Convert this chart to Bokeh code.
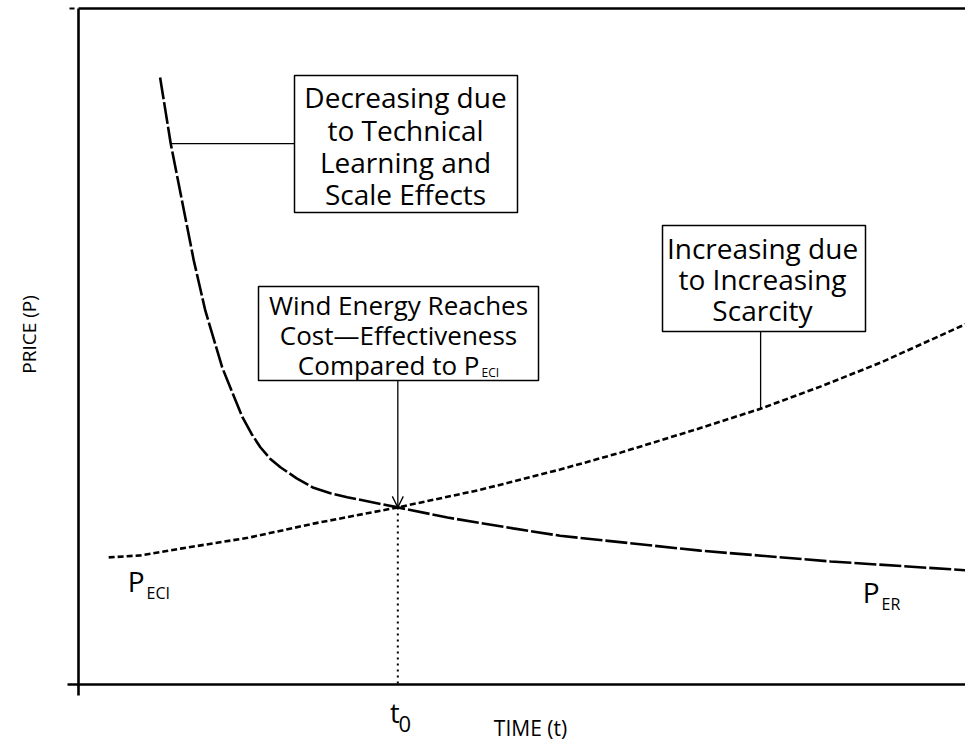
import math
from bokeh.plotting import figure
from bokeh.models import Range1d, Label, BoxAnnotation, Arrow, OpenHead
from bokeh.embed import file_html
from bokeh.resources import INLINE

# ---------------- data (time t, price P; arbitrary units 0..100) ----------------
time_er = [9.2, 10.4, 13.0, 14.3, 16.2, 17.4, 18.5, 19.5, 20.5, 21.6, 22.8, 24.6,
           26.5, 28.4, 30.3, 36.0, 41.6, 49.0, 54.3, 62.2, 70.1, 84.8, 100.0]
price_er = [89.8, 80.0, 62.7, 55.3, 46.9, 43.0, 39.5, 37.1, 35.1, 33.4, 32.1, 30.5,
            29.1, 28.3, 27.7, 26.2, 24.7, 23.1, 22.0, 20.9, 19.8, 18.2, 16.9]

time_eci = [3.4, 7.0, 11.5, 19.1, 26.5, 36.0, 45.3, 54.3, 61.1, 69.3, 76.9, 83.7, 90.4, 100.0]
price_eci = [18.8, 19.1, 20.1, 21.7, 23.8, 26.2, 28.8, 31.8, 34.3, 37.6, 40.8, 44.1, 47.6, 53.3]

t0 = 36.0
p0 = 26.2

# ---------------- layout helpers (pixel -> data) ----------------
W, H = 965, 747
def X(px):  # page pixel x -> data
    return (px - 78) / 8.87
def Y(py):  # page pixel y -> data
    return (684 - py) / 6.76

p = figure(width=W, height=H, output_backend="svg", toolbar_location=None,
           x_axis_location=None, y_axis_location=None,
           x_range=Range1d(X(0), X(W)), y_range=Range1d(Y(H), Y(0)),
           min_border=0, outline_line_color=None)
p.background_fill_color = "white"
p.border_fill_color = "white"
p.xgrid.grid_line_color = None
p.ygrid.grid_line_color = None

FONT = "Open Sans"
INK = "black"

# ---------------- axes / frame lines ----------------
p.line([X(78), X(78)], [Y(8), Y(695)], line_color=INK, line_width=2.6)
p.line([X(67), X(965)], [0, 0], line_color=INK, line_width=2.6)
p.line([X(78), X(965)], [Y(8), Y(8)], line_color=INK, line_width=2.4)
p.line([X(69), X(74)], [Y(8), Y(8)], line_color=INK, line_width=2.0)

# ---------------- curves ----------------
p.line(time_er, price_er, line_color=INK, line_width=2.6, line_dash="22 3")
p.line(time_eci, price_eci, line_color=INK, line_width=2.6, line_dash="6 3")
p.line([t0, t0], [p0, 0], line_color=INK, line_width=2.0, line_dash="2 4")

# ---------------- boxes ----------------
def box(l, r, t, b):
    p.add_layout(BoxAnnotation(left=X(l), right=X(r), top=Y(t), bottom=Y(b),
                               fill_alpha=0, line_color=INK, line_alpha=1.0,
                               line_width=1.5))

box(294, 517, 75, 212)
box(258, 538, 286, 380)
box(662, 865, 225, 331)

# leader lines
p.line([time_er[1], X(294)], [price_er[1], price_er[1]], line_color=INK, line_width=1.3)
p.line([time_eci[10], time_eci[10]], [price_eci[10], Y(331)], line_color=INK, line_width=1.3)
p.add_layout(Arrow(end=OpenHead(size=11, line_width=1.3, line_color=INK),
                   x_start=t0, y_start=Y(380), x_end=t0, y_end=p0,
                   line_width=1.3, line_color=INK))

# ---------------- texts ----------------
def lbl(px, py, text, size, align="center", baseline="alphabetic", angle=0.0):
    # py is the intended baseline in page pixels; compensate the renderer's offset
    yy = py - 0.42 * size if baseline == "alphabetic" else py
    p.add_layout(Label(x=X(px), y=Y(yy), text=text, text_font=FONT,
                       text_font_size=f"{size}px", text_color=INK,
                       text_align=align, text_baseline=baseline, angle=angle))

for txt, by in [("Decreasing due", 108), ("to Technical", 141),
                ("Learning and", 173), ("Scale Effects", 205)]:
    lbl(405, by, txt, 28)

for txt, by in [("Increasing due", 259), ("to Increasing", 290), ("Scarcity", 321)]:
    lbl(762, by, txt, 28)

lbl(398, 315, "Wind Energy Reaches", 26)
lbl(398, 345, "Cost\u2014Effectiveness", 26)
lbl(479, 375, "Compared to P", 26, align="right")
lbl(481, 377, "ECI", 12, align="left")

lbl(144, 592, "P", 28, align="right")
lbl(146, 599, "ECI", 16, align="left")
lbl(879, 603, "P", 28, align="right")
lbl(881, 610, "ER", 16, align="left")

lbl(399, 723, "t", 27, align="right")
lbl(398, 733, "0", 22, align="left")

lbl(530, 736, "TIME (t)", 21)
lbl(28, 334, "PRICE (P)", 19, baseline="middle", angle=math.pi / 2)

open("out.html", "w").write(file_html(p, INLINE))
